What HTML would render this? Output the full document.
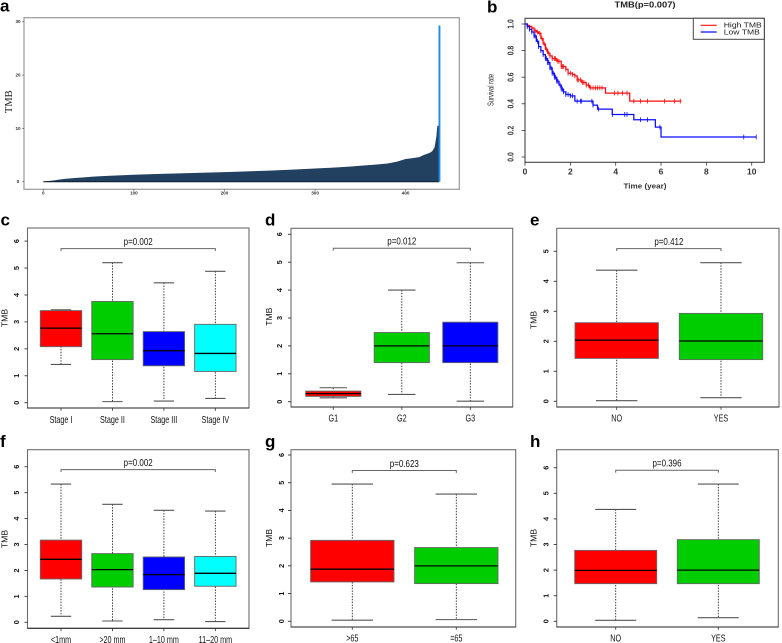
<!DOCTYPE html>
<html lang="en">
<head>
<meta charset="utf-8">
<title>TMB analysis figure</title>
<style>
html,body{margin:0;padding:0;background:#fff;}
svg{display:block;font-family:"Liberation Sans",sans-serif;}
</style>
</head>
<body>
<svg id="figure" xmlns="http://www.w3.org/2000/svg" width="782" height="643" viewBox="0 0 782 643">
<defs><filter id="soft" x="-2%" y="-2%" width="104%" height="104%"><feGaussianBlur stdDeviation="0.3"/></filter></defs>
<rect width="782" height="643" fill="#fff"/>
<g id="root" filter="url(#soft)"></g>
</svg>
<script>
/* Panel a: sorted TMB per sample */
const waterfallRanks = [0,6,12,18,25,35,45,55,65,80,100,125,150,175,200,225,250,275,300,320,340,350,365,380,390,400,408,415,420,425,428,430,432,434,435,436];
const waterfallTmb = [0.03,0.12,0.25,0.42,0.55,0.7,0.82,0.95,1.05,1.17,1.3,1.45,1.57,1.68,1.8,1.93,2.07,2.27,2.48,2.65,2.85,3.0,3.18,3.42,3.75,4.25,4.42,4.6,5.0,5.3,5.55,5.85,6.5,8.5,10.5,10.5];
const waterfallTopRanks = [437,438];
const waterfallTopTmb = [29.3,29.3];
const waterfallXTicks = [0,100,200,300,400];
const waterfallYTicks = [0,10,20,30];

/* Panel b: Kaplan-Meier curves */
const highTimes = [0,0.1,0.2,0.3,0.4,0.5,0.6,0.7,0.8,0.9,1.0,1.1,1.2,1.4,1.6,1.8,1.9,2.1,2.2,2.3,2.5,2.7,2.85,3.55,4.62,6.9];
const highSurvival = [1,0.99,0.98,0.97,0.95,0.94,0.93,0.89,0.85,0.81,0.78,0.76,0.74,0.72,0.68,0.66,0.63,0.62,0.61,0.58,0.56,0.54,0.52,0.48,0.42,0.42];
const highCensor = [0.3,0.45,0.55,0.65,0.75,0.85,0.95,1.05,1.1,1.2,1.3,1.35,1.45,1.5,1.6,1.65,1.7,1.8,1.9,2.0,2.1,2.2,2.3,2.35,2.45,2.55,2.6,2.7,2.8,2.9,3.0,3.1,3.2,3.3,3.4,3.95,4.1,4.3,4.5,4.8,5.1,5.4,6.15,6.6,6.85];
const lowTimes = [0,0.1,0.2,0.3,0.4,0.5,0.6,0.7,0.8,0.9,1.0,1.1,1.2,1.3,1.4,1.5,1.6,1.7,1.8,2.0,2.2,3.0,3.2,3.85,4.8,5.75,6.0,10.2];
const lowSurvival = [1,0.98,0.96,0.94,0.91,0.87,0.83,0.80,0.77,0.74,0.71,0.67,0.63,0.60,0.57,0.54,0.51,0.49,0.47,0.46,0.42,0.39,0.36,0.32,0.28,0.225,0.15,0.15];
const lowCensor = [0.1,0.2,0.3,0.4,0.45,0.55,0.6,0.7,0.8,0.9,0.95,1.0,1.05,1.1,1.15,1.2,1.25,1.3,1.35,1.4,1.45,1.55,1.6,1.65,1.7,1.8,1.9,2.0,2.1,2.3,2.45,2.5,2.95,3.0,3.25,3.85,4.4,4.5,5.1,5.4,5.95,9.65,10.2];
const kmXTicks = [0,2,4,6,8,10];
const kmYTicks = [0,0.2,0.4,0.6,0.8,1];

/* Panel c */
const cCategories = ["Stage I","Stage II","Stage III","Stage IV"];
const cLow = [1.42,0.04,0.06,0.16];
const cQ1 = [2.08,1.6,1.37,1.16];
const cMedian = [2.77,2.56,1.93,1.83];
const cQ3 = [3.42,3.76,2.64,2.91];
const cHigh = [3.45,5.2,4.45,4.88];
/* Panel d */
const dCategories = ["G1","G2","G3"];
const dLow = [0.14,0.26,0.02];
const dQ1 = [0.19,1.4,1.4];
const dMedian = [0.29,2.0,2.0];
const dQ3 = [0.38,2.48,2.85];
const dHigh = [0.5,4.0,4.98];
/* Panel e */
const eCategories = ["NO","YES"];
const eLow = [0.02,0.12];
const eQ1 = [1.43,1.39];
const eMedian = [2.04,2.01];
const eQ3 = [2.62,2.93];
const eHigh = [4.37,4.62];
/* Panel f */
const fCategories = ["<1mm",">20 mm","1\u201310 mm","11\u201320 mm"];
const fLow = [0.23,0.05,0.1,0.03];
const fQ1 = [1.67,1.36,1.26,1.39];
const fMedian = [2.43,2.03,1.84,1.89];
const fQ3 = [3.17,2.65,2.52,2.54];
const fHigh = [5.33,4.55,4.32,4.29];
/* Panel g */
const gCategories = [">65","=65"];
const gLow = [0.04,0.06];
const gQ1 = [1.42,1.36];
const gMedian = [1.88,2.0];
const gQ3 = [2.92,2.66];
const gHigh = [4.95,4.59];
/* Panel h */
const hCategories = ["NO","YES"];
const hLow = [0.04,0.14];
const hQ1 = [1.47,1.47];
const hMedian = [1.99,2.0];
const hQ3 = [2.77,3.19];
const hHigh = [4.37,5.36];

const sixTicks = [0,1,2,3,4,5,6];
const fiveTicks = [0,1,2,3,4,5];
const boxColors = ["#ff0000","#00cd00","#0000ff","#00ffff"];

const NS = "http://www.w3.org/2000/svg";
const root = document.getElementById("root");

function mk(parent, tag, attrs, name) {
  const el = document.createElementNS(NS, tag);
  for (const k in attrs) el.setAttribute(k, attrs[k]);
  
  
  parent.appendChild(el);
  return el;
}
function line(p, x1, y1, x2, y2, stroke, w, name, dash) {
  const a = {x1:x1, y1:y1, x2:x2, y2:y2, stroke:stroke, "stroke-width":w};
  if (dash) a["stroke-dasharray"] = dash;
  return mk(p, "line", a, name);
}
function label(p, str, x, y, size, name, opt) {
  opt = opt || {};
  const sx = opt.sx || 1;
  let tr = "translate(" + x + " " + y + ")";
  if (opt.rot) tr += " rotate(" + opt.rot + ")";
  tr += " scale(" + sx + " 1)";
  const t = mk(p, "text", {
    transform: tr, "font-size": size, "text-anchor": opt.anchor || "middle",
    "dominant-baseline": opt.base || "central", fill: opt.fill || "#222",
    "font-weight": opt.weight || "normal",
    "font-family": opt.family || '"Liberation Sans", sans-serif'
  }, name);
  t.textContent = str;
  return t;
}
function panelLetter(str, x, y) {
  label(root, str, x, y, 17, "panel-label-" + str, {anchor:"start", base:"alphabetic", weight:"bold", fill:"#000"});
}

/* ---------- Panel a ---------- */
(function () {
  const g = mk(root, "g", {}, "panel-a-waterfall");
  const X = r => 43.3 + r * 0.9058;
  const Y = v => 181.7 - v * 5.333;
  mk(g, "rect", {x:24, y:17.7, width:435.3, height:171.6, fill:"#fff", stroke:"#999", "stroke-width":1.2}, "plot-frame");
  let d = "M" + X(waterfallRanks[0]) + " " + Y(0);
  waterfallRanks.forEach((r, i) => { d += "L" + X(r) + " " + Y(waterfallTmb[i]); });
  d += "L" + X(waterfallRanks[waterfallRanks.length - 1] + 1) + " " + Y(waterfallTmb[waterfallTmb.length - 1]);
  d += "L" + X(waterfallRanks[waterfallRanks.length - 1] + 1) + " " + Y(0) + "Z";
  mk(g, "path", {d:d, fill:"#213f5e"}, "tmb-sorted-area");
  line(g, X(0), Y(0), X(437), Y(0), "#0d1c30", 1, "baseline");
  waterfallTopRanks.forEach((r, i) => {
    const bar = mk(g, "rect", {x:X(r) - 0.6, y:Y(waterfallTopTmb[i]), width:0.95, height:Y(0) - Y(waterfallTopTmb[i]), fill:"#1f88e0"}, "tmb-top-bar");
    bar.setAttribute("data-rank", r);
  });
  waterfallXTicks.forEach(t => {
    line(g, X(t), 189.3, X(t), 190.8, "#555", 0.8, "x-tick");
    label(g, String(t), X(t), 192.8, 4.6, "x-tick-label", {fill:"#333", weight:"bold"});
  });
  waterfallYTicks.forEach(t => {
    line(g, 22.4, Y(t), 24, Y(t), "#555", 0.8, "y-tick");
    label(g, String(t), 18, Y(t), 4.6, "y-tick-label", {fill:"#333", weight:"bold"});
  });
  label(g, "TMB", 9.3, 101.7, 10.5, "y-axis-title", {rot:-90, family:'"Liberation Serif", serif', fill:"#222"});
})();

/* ---------- Panel b ---------- */
function survivalAt(times, surv, t) {
  let s = surv[0];
  for (let i = 0; i < times.length; i++) { if (times[i] <= t) s = surv[i]; }
  return s;
}
(function () {
  const g = mk(root, "g", {}, "panel-b-survival");
  const X = t => 525 + t * 22.67;
  const Y = s => 157 - s * 133;
  mk(g, "rect", {x:525, y:18.3, width:239.3, height:144, fill:"#fff", stroke:"#444", "stroke-width":1.1}, "plot-frame");
  function curve(times, surv, censor, color, name) {
    let d = "M" + X(times[0]) + " " + Y(surv[0]);
    for (let i = 1; i < times.length; i++) {
      d += "L" + X(times[i]) + " " + Y(surv[i - 1]) + "L" + X(times[i]) + " " + Y(surv[i]);
    }
    mk(g, "path", {d:d, fill:"none", stroke:color, "stroke-width":1.25}, name + "-curve");
    censor.forEach(t => {
      const y = Y(survivalAt(times, surv, t));
      line(g, X(t), y - 2.4, X(t), y + 2.4, color, 0.8, name + "-censor-mark");
    });
  }
  curve(highTimes, highSurvival, highCensor, "#ff1010", "high-tmb");
  curve(lowTimes, lowSurvival, lowCensor, "#0a0aff", "low-tmb");
  kmXTicks.forEach(t => {
    line(g, X(t), 162.3, X(t), 165.6, "#333", 0.8, "x-tick");
    label(g, String(t), X(t), 172.3, 7.8, "x-tick-label", {weight:"bold", fill:"#333", sx:1.08});
  });
  kmYTicks.forEach(t => {
    line(g, 521.6, Y(t), 525, Y(t), "#333", 0.8, "y-tick");
    label(g, t.toFixed(1), 510.7, Y(t), 8, "y-tick-label", {rot:-90, sx:0.85, weight:"bold", fill:"#333"});
  });
  label(g, "Time (year)", 645, 186, 7.5, "x-axis-title", {weight:"bold", fill:"#333", sx:1.08});
  label(g, "Survival rate", 490.7, 90, 8.5, "y-axis-title", {rot:-90, sx:0.68, fill:"#222"});
  label(g, "TMB(p=0.007)", 645, 4.6, 8, "chart-title", {weight:"bold", fill:"#222", sx:1.17});
  mk(g, "rect", {x:693.3, y:18.3, width:71, height:21, fill:"#fff", stroke:"#444", "stroke-width":1}, "legend-box");
  line(g, 700.7, 25.3, 716.7, 25.3, "#ff1010", 1.2, "legend-line-high-tmb");
  line(g, 700.7, 32, 716.7, 32, "#0a0aff", 1.2, "legend-line-low-tmb");
  label(g, "High TMB", 723.7, 25.3, 7.3, "legend-entry-high-tmb", {anchor:"start", fill:"#222", sx:1.18});
  label(g, "Low TMB", 723.7, 32, 7.3, "legend-entry-low-tmb", {anchor:"start", fill:"#222", sx:1.18});
})();

/* ---------- Boxplot panels ---------- */
function boxPanel(cfg, cats, lo, q1, med, q3, hi, ticks, bracket, pText) {
  const g = mk(root, "g", {}, cfg.name);
  const Y = v => cfg.y0 - v * cfg.unit;
  const X = i => cfg.cx0 + i * cfg.step;
  mk(g, "rect", {x:cfg.left, y:cfg.top, width:cfg.right - cfg.left, height:cfg.bottom - cfg.top, fill:"#fff", stroke:"#6c6c6c", "stroke-width":1.1}, "plot-frame");
  cats.forEach((c, i) => {
    const x = X(i);
    line(g, x, Y(hi[i]), x, Y(lo[i]), "#222", 0.9, "whisker-" + c, "1.4 1.4");
    line(g, x - cfg.cap, Y(hi[i]), x + cfg.cap, Y(hi[i]), "#555", 1.1, "whisker-cap-high-" + c);
    line(g, x - cfg.cap, Y(lo[i]), x + cfg.cap, Y(lo[i]), "#555", 1.1, "whisker-cap-low-" + c);
    mk(g, "rect", {x:x - cfg.half, y:Y(q3[i]), width:2 * cfg.half, height:Y(q1[i]) - Y(q3[i]), fill:boxColors[i], stroke:"#666", "stroke-width":0.9}, "box-" + c);
    line(g, x - cfg.half, Y(med[i]), x + cfg.half, Y(med[i]), "#000", 1.3, "median-" + c);
    line(g, x, cfg.bottom, x, cfg.bottom + 2.8, "#444", 0.9, "x-tick");
    label(g, c, x, cfg.xLabelY, 10, "x-tick-label-" + c, {sx:0.72, fill:"#111"});
  });
  line(g, cfg.left, cfg.bottom, cfg.right, cfg.bottom, "#333", 1.1, "x-axis-line");
  ticks.forEach(t => {
    line(g, cfg.left - 3, Y(t), cfg.left, Y(t), "#333", 0.9, "y-tick");
    label(g, String(t), cfg.tickX, Y(t), 7.2, "y-tick-label", {rot:-90, fill:"#111", weight:"bold"});
  });
  label(g, "TMB", cfg.titleX, cfg.titleY, 8.6, "y-axis-title", {rot:-90, fill:"#111"});
  const by = Y(bracket);
  const x1 = X(0), x2 = X(cats.length - 1);
  mk(g, "path", {d:"M" + x1 + " " + (by + 2.4) + "V" + by + "H" + x2 + "V" + (by + 2.4), fill:"none", stroke:"#666", "stroke-width":1}, "significance-bracket");
  label(g, pText, (x1 + x2) / 2 + cfg.pShift, by - 7, 10.5, "p-value-label", {sx:0.76, fill:"#111"});
}

boxPanel({name:"panel-c-stage-boxplot", left:27.5, right:249, top:228, bottom:408, y0:402.7, unit:26.93, cx0:61, step:51.45, half:20.7, cap:10.2, xLabelY:419.8, tickX:16.7, titleX:4.6, titleY:318, pShift:0},
  cCategories, cLow, cQ1, cMedian, cQ3, cHigh, sixTicks, 5.72, "p=0.002");
boxPanel({name:"panel-d-grade-boxplot", left:291, right:512.7, top:228.3, bottom:407, y0:401.7, unit:27.9, cx0:333.3, step:68.5, half:27.6, cap:13.7, xLabelY:418, tickX:279.7, titleX:269, titleY:316.7, pShift:0},
  dCategories, dLow, dQ1, dMedian, dQ3, dHigh, sixTicks, 5.5, "p=0.012");
boxPanel({name:"panel-e-boxplot", left:556.7, right:779, top:228.3, bottom:407, y0:401.3, unit:30, cx0:616.7, step:104.3, half:41.7, cap:20.7, xLabelY:418, tickX:546, titleX:533.3, titleY:320, pShift:0},
  eCategories, eLow, eQ1, eMedian, eQ3, eHigh, fiveTicks, 5.09, "p=0.412");
boxPanel({name:"panel-f-size-boxplot", left:27.5, right:249, top:449.7, bottom:628.3, y0:622.3, unit:25.93, cx0:61, step:51.45, half:20.7, cap:10.2, xLabelY:639.5, tickX:16.7, titleX:4.6, titleY:539, pShift:0},
  fCategories, fLow, fQ1, fMedian, fQ3, fHigh, sixTicks, 5.89, "p=0.002");
boxPanel({name:"panel-g-age-boxplot", left:291, right:515.7, top:449.7, bottom:627, y0:621.3, unit:27.72, cx0:352.3, step:104, half:41.7, cap:20.7, xLabelY:638, tickX:281.7, titleX:269, titleY:538, pShift:0},
  gCategories, gLow, gQ1, gMedian, gQ3, gHigh, sixTicks, 5.44, "p=0.623");
boxPanel({name:"panel-h-boxplot", left:556.7, right:778.3, top:449.7, bottom:627, y0:621.3, unit:25.6, cx0:615.7, step:102.6, half:41, cap:20.5, xLabelY:638, tickX:546, titleX:533.3, titleY:538, pShift:0},
  hCategories, hLow, hQ1, hMedian, hQ3, hHigh, sixTicks, 5.9, "p=0.396");

panelLetter("a", 0, 11.7);
panelLetter("b", 487, 12.7);
panelLetter("c", 0.5, 225.7);
panelLetter("d", 265, 225.7);
panelLetter("e", 530, 225.7);
panelLetter("f", 0, 447);
panelLetter("g", 265, 447);
panelLetter("h", 530, 447);
</script>
</body>
</html>
